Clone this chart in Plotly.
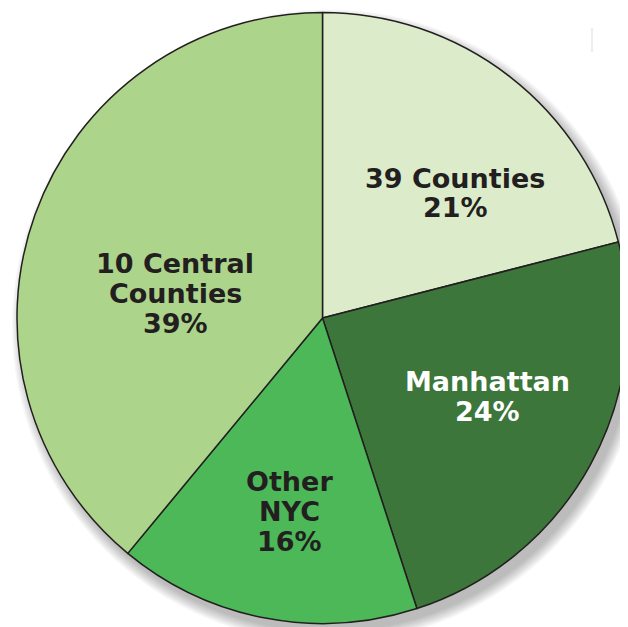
import plotly.graph_objs as go

labels = ["39 Counties", "Manhattan", "Other NYC", "10 Central Counties"]
shares = [21, 24, 16, 39]
label_lines = [["39 Counties"], ["Manhattan"], ["Other", "NYC"], ["10 Central", "Counties"]]
colors = ["#dcecca", "#3c763a", "#4cb858", "#acd48a"]
text_colors = ["#231f20", "#ffffff", "#231f20", "#231f20"]
# label block: centre x and cap-top of first line, in page pixels
label_pos = [(455, 170), (487, 373), (289, 473), (175, 255)]

# the page body adds an 8px margin, so the figure is drawn 8px in
OFF = 8
W, H = 628 - OFF, 627 - OFF
PITCH = 30


def px(x):
    return (x - OFF) / W


def py(y):
    return 1 - (y - OFF) / H


fig = go.Figure(go.Pie(
    labels=labels,
    values=shares,
    sort=False,
    direction="clockwise",
    rotation=0,
    textinfo="none",
    hoverinfo="label+percent",
    marker=dict(colors=colors, line=dict(color="#231f20", width=1.5)),
    domain=dict(x=[px(17), px(628)], y=[py(624), py(12)]),
    showlegend=False,
))

# soft drop shadow behind the pie
cx, cy, r = 322.5, 318, 306
for k in range(8):
    rr = r + k * 1.5
    ox, oy = 6, 8
    fig.add_shape(
        type="circle", xref="paper", yref="paper", layer="below",
        x0=px(cx + ox - rr), x1=px(cx + ox + rr),
        y0=py(cy + oy + rr), y1=py(cy + oy - rr),
        line=dict(width=0), fillcolor="rgba(0,0,0,0.035)",
    )

for lines, pct, col, (lx, ly) in zip(label_lines, shares, text_colors, label_pos):
    for i, t in enumerate(lines + [f"{pct}%"]):
        fig.add_annotation(
            x=px(lx), y=py(ly + 9 + i * PITCH), xref="paper", yref="paper",
            text=t, showarrow=False,
            font=dict(family="DejaVu Sans", size=27, color=col, weight="bold"),
            xanchor="center", yanchor="middle", yshift=1,
        )

# stray page fragments at the top right
fig.add_shape(type="line", xref="paper", yref="paper",
              x0=px(592), x1=px(592), y0=py(28), y1=py(52),
              line=dict(color="#dddddd", width=1))
fig.add_annotation(x=px(619), y=py(40), xref="paper", yref="paper", text="s",
                   showarrow=False, xanchor="left", yanchor="middle",
                   font=dict(family="Liberation Sans", size=15, color="#231f20"))

fig.update_layout(
    width=W, height=H,
    margin=dict(l=0, r=0, t=0, b=0),
    paper_bgcolor="white", plot_bgcolor="white",
)

fig.write_html("out.html")
